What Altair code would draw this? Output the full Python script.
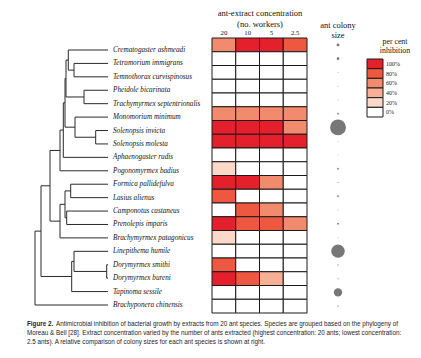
import altair as alt
import pandas as pd

species = [
    "Crematogaster ashmeadi", "Tetramorium immigrans", "Temnothorax curvispinosus",
    "Pheidole bicarinata", "Trachymyrmex septentrionalis", "Monomorium minimum",
    "Solenopsis invicta", "Solenopsis molesta", "Aphaenogaster rudis",
    "Pogonomyrmex badius", "Formica pallidefulva", "Lasius alienus",
    "Camponotus castaneus", "Prenolepis imparis", "Brachymyrmex patagonicus",
    "Linepithema humile", "Dorymyrmex smithi", "Dorymyrmex bureni",
    "Tapinoma sessile", "Brachyponera chinensis",
]
concentrations = ["20", "10", "5", "2.5"]
inhib_20 = [60, 0, 0, 0, 0, 60, 100, 100, 0, 20, 100, 80, 0, 100, 20, 0, 80, 100, 0, 0]
inhib_10 = [100, 0, 0, 0, 0, 60, 100, 100, 0, 0, 100, 0, 80, 80, 0, 0, 0, 80, 0, 0]
inhib_5 = [100, 0, 0, 0, 0, 60, 100, 100, 0, 0, 60, 0, 60, 80, 0, 0, 0, 40, 0, 0]
inhib_2_5 = [80, 0, 0, 0, 0, 60, 60, 100, 0, 0, 0, 0, 0, 60, 0, 0, 0, 0, 0, 0]
colony_area = [8, 7, 0.8, 0.8, 0.8, 3, 250, 0.8, 0.8, 3, 1, 3, 0.8, 3.5, 0.8, 180, 1.5, 1, 70, 1.5]
levels = [100, 80, 60, 40, 20, 0]
level_labels = ["100%", "80%", "60%", "40%", "20%", "0%"]
level_colors = ["#e3202b", "#ee5840", "#f28a6e", "#f7b097", "#fcd8c8", "#ffffff"]

# phylogeny: (node depth, [children]); leaves at depth 73
LEAF_DEPTH = 73
tree = (0, [
    (6, [
        (15, [
            (25, [
                (28.3, [
                    (30, [
                        (31, [
                            (33.3, ["Crematogaster ashmeadi",
                                    (39, ["Tetramorium immigrans", "Temnothorax curvispinosus"])]),
                            (49, ["Pheidole bicarinata", "Trachymyrmex septentrionalis"]),
                        ]),
                        (40, ["Monomorium minimum",
                              (60.7, ["Solenopsis invicta", "Solenopsis molesta"])]),
                    ]),
                    "Aphaenogaster rudis",
                ]),
                "Pogonomyrmex badius",
            ]),
            (25, [
                (30, [
                    (35.7, ["Formica pallidefulva", "Lasius alienus"]),
                    (31.7, ["Camponotus castaneus", "Prenolepis imparis"]),
                ]),
                "Brachymyrmex patagonicus",
            ]),
        ]),
        (36.7, [
            (39, ["Linepithema humile",
                  (71.7, ["Dorymyrmex smithi", "Dorymyrmex bureni"])]),
            "Tapinoma sessile",
        ]),
    ]),
    "Brachyponera chinensis",
])

segs = []


def walk(node):
    if isinstance(node, str):
        return LEAF_DEPTH, float(species.index(node))
    depth, kids = node
    pos = [walk(k) for k in kids]
    ys = [p[1] for p in pos]
    for kd, ky in pos:
        segs.append({"x": depth, "x2": kd, "y": ky, "y2": ky})
    segs.append({"x": depth, "x2": depth, "y": min(ys), "y2": max(ys)})
    return depth, (min(ys) + max(ys)) / 2


walk(tree)
seg_df = pd.DataFrame(segs)

rows = []
for i, s in enumerate(species):
    for c, arr in zip(concentrations, [inhib_20, inhib_10, inhib_5, inhib_2_5]):
        rows.append({"species": s, "conc": c, "pct": arr[i]})
heat_df = pd.DataFrame(rows)
sp_df = pd.DataFrame({"species": species, "row": list(range(len(species))), "colony": colony_area})
leg_df = pd.DataFrame({"level": levels, "label": level_labels})

SERIF = "Liberation Serif"
tree_x = alt.Scale(domain=[0, LEAF_DEPTH], range=[27, 100], nice=False, zero=False)
tree_y = alt.Scale(domain=[0, 19], range=[42, 297], nice=False, zero=False)
heat_x = alt.Scale(domain=concentrations, range=[204, 299], paddingInner=0, paddingOuter=0)
heat_y = alt.Scale(domain=species, range=[30, 305], paddingInner=0, paddingOuter=0)
col_scale = alt.Scale(domain=levels, range=level_colors)

tree_layer = alt.Chart(seg_df).mark_rule(color="#2a2a2a", strokeWidth=1).encode(
    x=alt.X("x:Q", scale=tree_x, axis=None),
    x2="x2:Q",
    y=alt.Y("y:Q", scale=tree_y, axis=None),
    y2="y2:Q",
)

labels = alt.Chart(sp_df).mark_text(
    align="left", baseline="middle", font=SERIF, fontStyle="italic", fontSize=7.2, color="#111"
).encode(
    x=alt.value(105),
    y=alt.Y("row:Q", scale=tree_y, axis=None),
    text="species:N",
)

heat = alt.Chart(heat_df).mark_rect(stroke="#1a1a1a", strokeWidth=1).encode(
    x=alt.X("conc:O", scale=heat_x, axis=None),
    y=alt.Y("species:N", scale=heat_y, axis=None),
    color=alt.Color("pct:O", scale=col_scale, legend=None),
)

heads = alt.Chart(pd.DataFrame({"conc": concentrations})).mark_text(
    baseline="middle", font=SERIF, fontSize=6.8, color="#111"
).encode(
    x=alt.X("conc:O", scale=heat_x, axis=None),
    y=alt.value(25),
    text="conc:N",
)

circles = alt.Chart(sp_df).mark_circle(color="#777777", opacity=1).encode(
    x=alt.value(330),
    y=alt.Y("row:Q", scale=alt.Scale(domain=[-0.5, 19.5], range=[30, 305], nice=False, zero=False), axis=None),
    size=alt.Size("colony:Q", scale=alt.Scale(domain=[0, 250], range=[0, 250]), legend=None),
)

leg_y = alt.Scale(domain=level_labels, range=[51, 109], paddingInner=0, paddingOuter=0)
leg_boxes = alt.Chart(leg_df).mark_rect(stroke="#1a1a1a", strokeWidth=1).encode(
    x=alt.value(359), x2=alt.value(375),
    y=alt.Y("label:N", scale=leg_y, axis=None),
    color=alt.Color("level:O", scale=col_scale, legend=None),
)
leg_text = alt.Chart(leg_df).mark_text(
    align="left", baseline="middle", font=SERIF, fontSize=6, color="#222"
).encode(
    x=alt.value(378),
    y=alt.Y("label:N", scale=leg_y, axis=None),
    text="label:N",
)


def note(lines, x, y0, dy, size, align="center", weight="normal", font=SERIF, color="#111"):
    df = pd.DataFrame({"t": lines, "i": list(range(len(lines)))})
    if len(lines) > 1:
        yenc = alt.Y("i:Q", scale=alt.Scale(domain=[0, len(lines) - 1],
                                             range=[y0, y0 + dy * (len(lines) - 1)],
                                             nice=False, zero=False), axis=None)
    else:
        yenc = alt.value(y0)
    return alt.Chart(df).mark_text(
        align=align, baseline="middle", font=font, fontSize=size, fontWeight=weight, color=color
    ).encode(x=alt.value(x), y=yenc, text="t:N")


title_conc = note(["ant-extract concentration", "(no. workers)"], 252, 5, 10.5, 8.5)
title_col = note(["ant colony", "size"], 330, 16.5, 10, 8.5)
title_leg = note(["per cent", "inhibition"], 387, 34, 8.5, 7.8)

CAP = "Liberation Sans"
CAP_SIZE = 6.3
CAP_COLOR = "#1c1c2a"
cap_bold = note(["Figure 2."], 19, 316, 9, CAP_SIZE, align="left", weight="bold", font=CAP, color=CAP_COLOR)
cap_rest = note([
    "Antimicrobial inhibition of bacterial growth by extracts from 20 ant species. Species are grouped based on the phylogeny of",
], 48, 316, 9, CAP_SIZE, align="left", font=CAP, color=CAP_COLOR)
cap_more = note([
    "Moreau & Bell [28]. Extract concentration varied by the number of ants extracted (highest concentration: 20 ants; lowest concentration:",
    "2.5 ants). A relative comparison of colony sizes for each ant species is shown at right.",
], 19, 325, 9, CAP_SIZE, align="left", font=CAP, color=CAP_COLOR)

chart = alt.layer(
    tree_layer, labels, heat, heads, circles, leg_boxes, leg_text,
    title_conc, title_col, title_leg, cap_bold, cap_rest, cap_more,
).resolve_scale(
    x="independent", y="independent", color="independent", size="independent"
).properties(
    width=405, height=342, padding=0, autosize=alt.AutoSizeParams(type="none"),
    background="white",
).configure_view(stroke=None)

chart.save("out.html", embed_options={"renderer": "svg", "actions": False})
